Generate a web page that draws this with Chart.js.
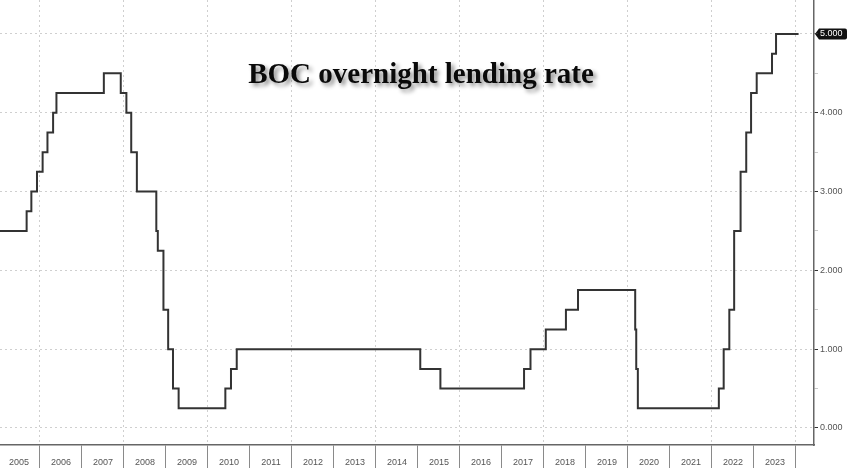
<!DOCTYPE html>
<html>
<head>
<meta charset="utf-8">
<script src="https://cdn.jsdelivr.net/npm/chart.js@4/dist/chart.umd.min.js"></script>
<style>
  html, body { margin: 0; padding: 0; background: #fff; }
  #wrap { position: relative; width: 848px; height: 468px; }
  #title {
    position: absolute; left: 421px; top: 59px; transform: translateX(-50%);
    font: bold 29px "Liberation Serif", "DejaVu Serif", serif; line-height: 29px;
    color: #0a0a0a; white-space: nowrap;
    text-shadow: 3px 3px 4px rgba(0,0,0,0.45);
  }
</style>
</head>
<body>
<div id="wrap">
  <canvas id="chart" width="848" height="468"></canvas>
  <div id="title">BOC overnight lending rate</div>
</div>
<script>
// rate decision dates and the overnight rate set on each (%)
var changeDates = ['2005-01-01', '2005-09-07', '2005-10-18', '2005-12-06', '2006-01-24', '2006-03-07',
  '2006-04-25', '2006-05-24', '2007-07-10', '2007-12-04', '2008-01-22', '2008-03-04', '2008-04-22',
  '2008-10-08', '2008-10-21', '2008-12-09', '2009-01-20', '2009-03-03', '2009-04-21', '2010-06-01',
  '2010-07-20', '2010-09-08', '2015-01-21', '2015-07-15', '2017-07-12', '2017-09-06', '2018-01-17',
  '2018-07-11', '2018-10-24', '2020-03-04', '2020-03-13', '2020-03-27', '2022-03-02', '2022-04-13',
  '2022-06-01', '2022-07-13', '2022-09-07', '2022-10-26', '2022-12-07', '2023-01-25', '2023-06-07',
  '2023-07-12', '2024-01-24'];
var rates = [2.50, 2.75, 3.00, 3.25, 3.50, 3.75,
  4.00, 4.25, 4.50, 4.25, 4.00, 3.50, 3.00,
  2.50, 2.25, 1.50, 1.00, 0.50, 0.25, 0.50,
  0.75, 1.00, 0.75, 0.50, 0.75, 1.00, 1.25,
  1.50, 1.75, 1.25, 0.75, 0.25, 0.50, 1.00,
  1.50, 2.50, 3.25, 3.75, 4.25, 4.50, 4.75,
  5.00, 5.00];
var yearTicks = [2005, 2006, 2007, 2008, 2009, 2010, 2011, 2012, 2013, 2014, 2015,
  2016, 2017, 2018, 2019, 2020, 2021, 2022, 2023, 2024];
var rateTicks = [0, 0.5, 1, 1.5, 2, 2.5, 3, 3.5, 4, 4.5, 5];

function toYear(s) {
  var p = s.split('-');
  var y = +p[0];
  var start = Date.UTC(y, 0, 1);
  var day = (Date.UTC(y, +p[1] - 1, +p[2]) - start) / 86400000;
  return y + day / 365;
}

var points = [];
for (var i = 0; i < changeDates.length; i++) {
  points.push({ x: toYear(changeDates[i]), y: rates[i] });
}
var lastRate = rates[rates.length - 1];

// black tag behind the last value label on the right axis
var lastValueBox = {
  id: 'lastValueBox',
  beforeDraw: function(chart) {
    var ys = chart.scales.y;
    var py = ys.getPixelForValue(lastRate);
    var ctx = chart.ctx;
    var l = ys.left + 1, r = chart.width - 1, h = 5.5;
    ctx.save();
    ctx.fillStyle = '#111';
    ctx.beginPath();
    ctx.moveTo(l, py);
    ctx.lineTo(l + 4, py - h);
    ctx.lineTo(r - 2, py - h);
    ctx.quadraticCurveTo(r, py - h, r, py - h + 2);
    ctx.lineTo(r, py + h - 2);
    ctx.quadraticCurveTo(r, py + h, r - 2, py + h);
    ctx.lineTo(l + 4, py + h);
    ctx.closePath();
    ctx.fill();
    ctx.restore();
  }
};

new Chart(document.getElementById('chart'), {
  type: 'line',
  data: {
    datasets: [{
      data: points,
      stepped: 'before',
      borderColor: '#333',
      borderWidth: 2,
      pointRadius: 0,
      fill: false
    }]
  },
  options: {
    responsive: false,
    animation: false,
    layout: { padding: 0 },
    plugins: { legend: { display: false }, tooltip: { enabled: false } },
    scales: {
      x: {
        type: 'linear',
        min: 2005.048,
        max: 2024.43,
        afterBuildTicks: function(s) {
          s.ticks = yearTicks.map(function(v) { return { value: v }; });
        },
        afterFit: function(s) { s.height = 23; s.paddingLeft = 0; s.paddingRight = 0; },
        ticks: {
          autoSkip: false,
          maxRotation: 0,
          labelOffset: 21,
          padding: -11,
          color: '#555',
          font: { family: 'Liberation Sans', size: 9 },
          callback: function(v) { return v < 2024 ? String(v) : ''; }
        },
        grid: {
          color: function(c) { return c.tick && c.tick.value % 2 === 0 ? '#cfcfcf' : 'rgba(0,0,0,0)'; },
          tickColor: '#8a8a8a',
          tickLength: 23,
          lineWidth: 1
        },
        border: { display: true, color: '#666', width: 1.5, dash: [2, 3] }
      },
      y: {
        position: 'right',
        min: -0.216,
        max: 5.431,
        afterBuildTicks: function(s) {
          s.ticks = rateTicks.map(function(v) { return { value: v }; });
        },
        afterFit: function(s) { s.width = 34; s.paddingTop = 0; s.paddingBottom = 0; },
        ticks: {
          padding: 2,
          color: function(c) { return c.tick && c.tick.value === lastRate ? '#fff' : '#555'; },
          font: { family: 'Liberation Sans', size: 9 },
          callback: function(v) { return v % 1 === 0 ? v.toFixed(3) : ''; }
        },
        grid: {
          color: function(c) { return c.tick && c.tick.value % 1 === 0 ? '#cfcfcf' : 'rgba(0,0,0,0)'; },
          tickColor: function(c) { return c.tick && c.tick.value % 1 === 0 ? '#333' : '#c8c8c8'; },
          tickLength: 4,
          lineWidth: 1
        },
        border: { display: true, color: '#666', width: 1.5, dash: [2, 3] }
      }
    }
  },
  plugins: [lastValueBox]
});
</script>
</body>
</html>
